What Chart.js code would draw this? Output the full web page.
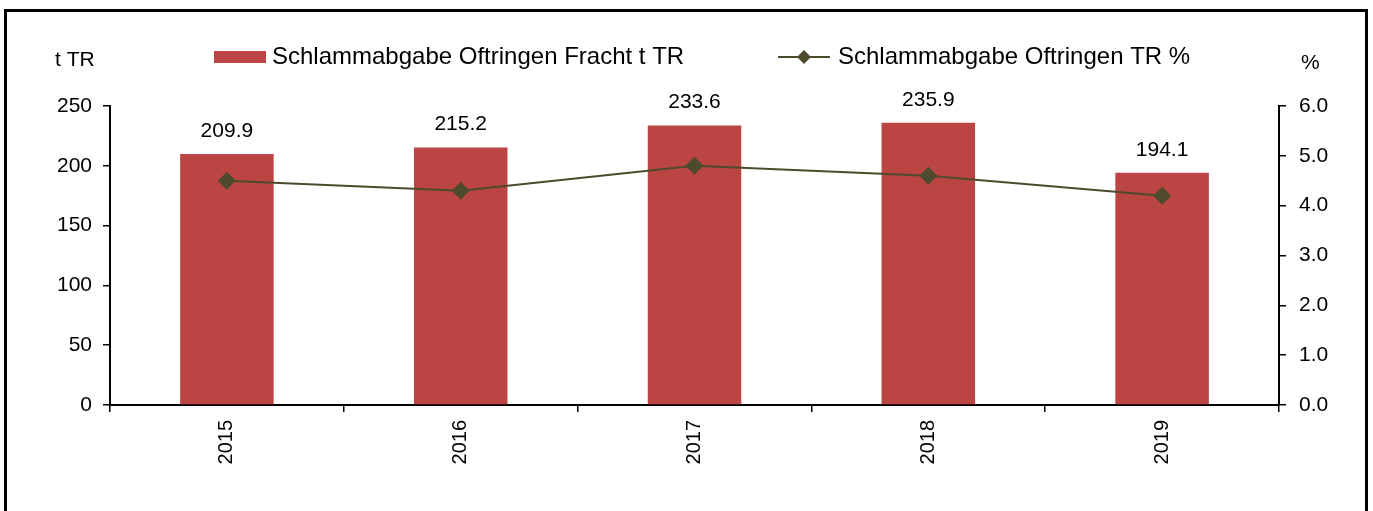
<!DOCTYPE html>
<html>
<head>
<meta charset="utf-8">
<script src="https://cdn.jsdelivr.net/npm/chart.js@4"></script>
<style>
  html, body { margin: 0; padding: 0; background: #fff; }
  canvas { display: block; }
</style>
</head>
<body>
<canvas id="sludgeChart" width="1373" height="511"></canvas>
<script>
// Jahre
const years = ['2015', '2016', '2017', '2018', '2019'];
// Schlammabgabe Fracht in t TR
const freight = [209.9, 215.2, 233.6, 235.9, 194.1];
// Trockenrückstand in %
const drySolids = [4.5, 4.3, 4.8, 4.6, 4.2];
// Achsenteilung
const leftTicks = [0, 50, 100, 150, 200, 250];
const rightTicks = [0, 1, 2, 3, 4, 5, 6];

const barLabel = 'Schlammabgabe Oftringen Fracht t TR';
const lineLabel = 'Schlammabgabe Oftringen TR %';
const barColor = '#BA4543';
const lineColor = '#4E4A2C';
const fontFamily = '"Liberation Sans", Arial, sans-serif';

// Rahmen, Legende, Einheiten und Werte über den Balken
const decorations = {
    id: 'decorations',
    beforeDraw(chart) {
        const ctx = chart.ctx;
        ctx.save();
        ctx.fillStyle = '#fff';
        ctx.fillRect(0, 0, chart.width, chart.height);
        ctx.strokeStyle = '#000';
        ctx.lineWidth = 3;
        ctx.strokeRect(5.5, 10.5, 1361, 520);
        ctx.restore();
    },
    afterDraw(chart) {
        const ctx = chart.ctx;
        ctx.save();
        ctx.fillStyle = '#000';
        ctx.textBaseline = 'middle';

        // Einheiten
        ctx.font = '21px ' + fontFamily;
        ctx.textAlign = 'left';
        ctx.fillText('t TR', 55, 60);
        ctx.fillText('%', 1301, 63);

        // Legende
        ctx.font = '24px ' + fontFamily;
        ctx.fillStyle = barColor;
        ctx.fillRect(214, 51, 52, 12);
        ctx.fillStyle = '#000';
        ctx.fillText(barLabel, 272, 57);

        ctx.strokeStyle = lineColor;
        ctx.lineWidth = 2;
        ctx.beginPath();
        ctx.moveTo(778, 57);
        ctx.lineTo(830, 57);
        ctx.stroke();
        ctx.fillStyle = lineColor;
        ctx.beginPath();
        ctx.moveTo(804, 50);
        ctx.lineTo(811, 57);
        ctx.lineTo(804, 64);
        ctx.lineTo(797, 57);
        ctx.closePath();
        ctx.fill();
        ctx.fillStyle = '#000';
        ctx.fillText(lineLabel, 838, 57);

        // Datenbeschriftung über den Balken
        ctx.font = '21px ' + fontFamily;
        ctx.textAlign = 'center';
        const meta = chart.getDatasetMeta(1);
        meta.data.forEach((bar, i) => {
            ctx.fillText(freight[i].toFixed(1), bar.x, bar.y - 23);
        });
        ctx.restore();
    }
};

const ctx = document.getElementById('sludgeChart').getContext('2d');
const sludgeChart = new Chart(ctx, {
    data: {
        labels: years,
        datasets: [{
            type: 'line',
            label: lineLabel,
            data: drySolids,
            yAxisID: 'y1',
            borderColor: lineColor,
            backgroundColor: lineColor,
            borderWidth: 2,
            pointStyle: 'rectRot',
            pointRadius: 9,
            pointHoverRadius: 9,
            pointBorderWidth: 0,
            tension: 0,
            order: 0
        }, {
            type: 'bar',
            label: barLabel,
            data: freight,
            yAxisID: 'y',
            backgroundColor: barColor,
            barPercentage: 0.4,
            categoryPercentage: 1,
            order: 1
        }]
    },
    options: {
        responsive: false,
        animation: false,
        layout: { padding: { top: 106, left: 0, right: 0, bottom: 0 } },
        plugins: {
            legend: { display: false },
            tooltip: { enabled: false }
        },
        scales: {
            x: {
                offset: true,
                grid: {
                    offset: true,
                    drawOnChartArea: false,
                    drawTicks: true,
                    tickLength: 7,
                    color: '#000',
                    lineWidth: 1.5
                },
                border: { color: '#000', width: 2 },
                ticks: {
                    color: '#000',
                    font: { size: 20, family: fontFamily },
                    minRotation: 90,
                    maxRotation: 90,
                    padding: 8
                },
                afterFit(scale) { scale.height = 106; }
            },
            y: {
                position: 'left',
                min: 0,
                max: 250,
                afterBuildTicks(scale) { scale.ticks = leftTicks.map(v => ({ value: v })); },
                grid: {
                    drawOnChartArea: false,
                    tickLength: 7,
                    color: '#000',
                    lineWidth: 1.5
                },
                border: { color: '#000', width: 2 },
                ticks: {
                    color: '#000',
                    font: { size: 21, family: fontFamily },
                    padding: 11
                },
                afterFit(scale) { scale.width = 110; }
            },
            y1: {
                position: 'right',
                min: 0,
                max: 6,
                afterBuildTicks(scale) { scale.ticks = rightTicks.map(v => ({ value: v })); },
                grid: {
                    drawOnChartArea: false,
                    tickLength: 7,
                    color: '#000',
                    lineWidth: 1.5
                },
                border: { color: '#000', width: 2 },
                ticks: {
                    color: '#000',
                    font: { size: 21, family: fontFamily },
                    padding: 13,
                    callback: v => Number(v).toFixed(1)
                },
                afterFit(scale) { scale.width = 94; }
            }
        }
    },
    plugins: [decorations]
});
</script>
</body>
</html>
